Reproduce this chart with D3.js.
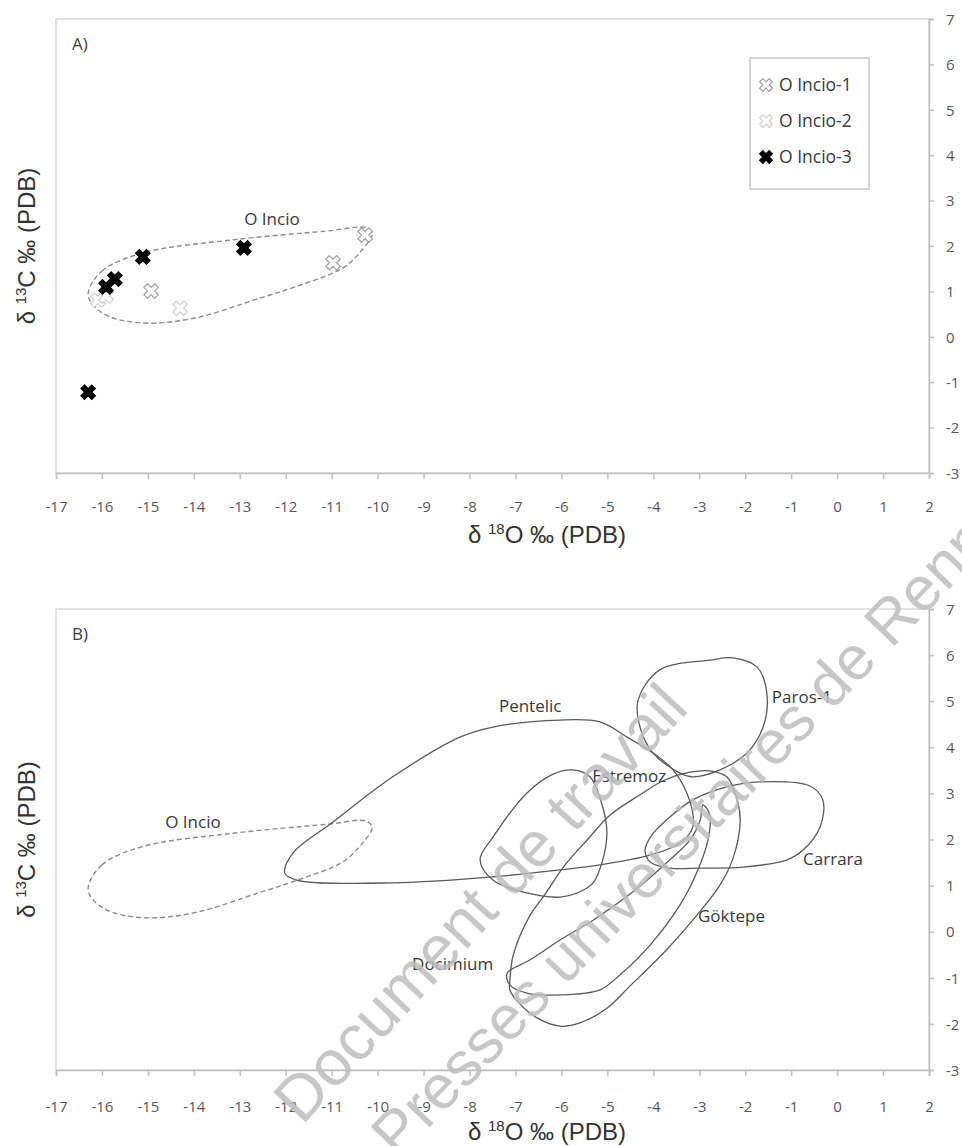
<!DOCTYPE html>
<html>
<head>
<meta charset="utf-8">
<script src="https://cdn.jsdelivr.net/npm/d3@7"></script>
<style>
  body { margin: 0; background: #fff; }
  svg { display: block; font-family: "Open Sans", sans-serif; }
</style>
</head>
<body>
<svg id="chart" width="962" height="1146"></svg>
<script>
// ---- data ----
const xTicks = d3.range(-17, 3)
const yTicks = d3.range(-3, 8)

// panel A samples (d18O, d13C)
const incio1 = [[-10.27, 2.24], [-10.97, 1.63], [-14.93, 1.01]]
const incio2 = [[-14.30, 0.63], [-16.09, 0.81], [-15.91, 0.90]]
const incio3 = [[-16.30, -1.22], [-15.91, 1.10], [-15.72, 1.27], [-15.11, 1.76], [-12.91, 1.96]]

// field envelopes
const oIncio = [[-16.30, 0.96], [-16.00, 1.45], [-15.10, 1.85], [-13.20, 2.13], [-11.10, 2.33], [-10.25, 2.40],
  [-10.12, 2.26], [-10.35, 1.90], [-10.75, 1.52], [-11.80, 1.10], [-12.60, 0.84], [-13.95, 0.42],
  [-15.00, 0.30], [-15.80, 0.43], [-16.20, 0.70]]
const pentelic = [[-12.02, 1.27], [-11.84, 1.71], [-10.97, 2.38], [-9.67, 3.36], [-8.21, 4.22], [-7.49, 4.44],
  [-6.03, 4.59], [-5.16, 4.55], [-4.57, 4.22], [-4.01, 3.88], [-3.57, 3.51], [-3.27, 3.01], [-3.14, 2.57],
  [-3.14, 2.27], [-3.27, 2.05], [-3.49, 1.88], [-4.07, 1.66], [-5.16, 1.45], [-6.03, 1.34], [-7.49, 1.19],
  [-9.67, 1.06], [-11.76, 1.12]]
const estremoz = [[-7.77, 1.56], [-7.49, 2.05], [-6.75, 3.01], [-6.18, 3.42], [-5.75, 3.51], [-5.38, 3.36],
  [-5.10, 2.70], [-5.01, 2.14], [-5.10, 1.56], [-5.31, 1.06], [-5.66, 0.84], [-6.03, 0.75], [-6.75, 0.84],
  [-7.49, 1.12]]
const paros1 = [[-4.33, 5.03], [-3.86, 5.68], [-2.77, 5.89], [-2.27, 5.94], [-1.74, 5.74], [-1.53, 5.18],
  [-1.61, 4.44], [-1.96, 3.88], [-2.55, 3.51], [-3.14, 3.36], [-3.42, 3.44], [-4.01, 3.88], [-4.29, 4.44]]
const carrara = [[-4.18, 1.77], [-4.03, 2.10], [-3.64, 2.49], [-3.14, 2.86], [-2.40, 3.14], [-1.68, 3.25],
  [-0.59, 3.16], [-0.31, 2.86], [-0.37, 2.27], [-0.74, 1.77], [-1.09, 1.56], [-2.05, 1.40], [-2.98, 1.38],
  [-3.64, 1.38], [-4.07, 1.51]]
const docimium = [[-7.18, -0.90], [-6.68, -0.61], [-6.03, -0.18], [-5.31, 0.25], [-4.36, 0.93], [-3.64, 1.56],
  [-3.20, 1.99], [-2.98, 2.42], [-2.92, 2.75], [-2.77, 2.53], [-2.81, 1.99], [-3.03, 1.34], [-3.42, 0.58],
  [-4.07, -0.29], [-4.73, -0.94], [-5.16, -1.26], [-6.03, -1.37], [-6.75, -1.33], [-7.12, -1.16]]
const goktepe = [[-7.12, -1.05], [-7.05, -0.51], [-6.68, 0.36], [-6.40, 0.75], [-5.92, 1.45], [-5.44, 1.99],
  [-4.94, 2.53], [-4.29, 2.97], [-3.75, 3.29], [-3.20, 3.46], [-2.77, 3.49], [-2.40, 3.36], [-2.18, 2.88],
  [-2.11, 2.38], [-2.27, 1.58], [-2.55, 1.01], [-3.05, 0.36], [-3.70, -0.38], [-4.51, -1.18], [-5.01, -1.66],
  [-5.60, -1.98], [-6.03, -2.05], [-6.53, -1.87], [-6.90, -1.57], [-7.12, -1.27]]

// labels: [text, x, y, anchor]
const labelsA = [["O Incio", -12.30, 2.46, "middle"]]
const labelsB = [["O Incio", -14.02, 2.25, "middle"], ["Pentelic", -6.68, 4.77, "middle"],
  ["Paros-1", -1.42, 4.96, "start"], ["Estremoz", -5.33, 3.25, "start"], ["Carrara", -0.74, 1.45, "start"],
  ["Göktepe", -3.03, 0.21, "start"], ["Docimium", -9.25, -0.83, "start"]]

const legendItems = ["O Incio-1", "O Incio-2", "O Incio-3"]

// ---- drawing ----
const svg = d3.select("#chart")
const left = 56, right = 929

const marker = d3.symbol().type(d3.symbolCross).size(130)
const markerStyle = [
  { fill: "#fff", stroke: "#a0a0a0" },
  { fill: "#fff", stroke: "#cfcfcf" },
  { fill: "#000", stroke: "#000" }
]

const outline = (x, y) => d3.line()
  .x(d => x(d[0]))
  .y(d => y(d[1]))
  .curve(d3.curveCatmullRomClosed.alpha(0.5))

function drawPanel(top, bottom, tag, labelOffset) {
  const x = d3.scaleLinear().domain([-17, 2]).range([left, right])
  const y = d3.scaleLinear().domain([-3, 7]).range([bottom, top])
  const g = svg.append("g")

  g.append("rect")
    .attr("x", left).attr("y", top)
    .attr("width", right - left).attr("height", bottom - top)
    .attr("fill", "none").attr("stroke", "#d9d9d9").attr("stroke-width", 1.5)

  const xAxis = g.append("g")
    .attr("transform", `translate(0,${bottom})`)
    .call(d3.axisBottom(x).tickValues(xTicks).tickSize(6).tickSizeOuter(6).tickFormat(d => String(d)))
  xAxis.selectAll("text")
    .attr("y", labelOffset).attr("dy", null)
    .attr("fill", "#595959").attr("font-size", "15px")
    .attr("font-family", "Open Sans, sans-serif")

  const yAxis = g.append("g")
    .attr("transform", `translate(${right},0)`)
    .call(d3.axisRight(y).tickValues(yTicks).tickSize(5).tickSizeOuter(5).tickFormat(d => String(d)))
  yAxis.selectAll("text")
    .attr("x", 17).attr("dy", "0.35em")
    .attr("fill", "#595959").attr("font-size", "15px")
    .attr("font-family", "Open Sans, sans-serif")

  g.selectAll(".domain, .tick line").attr("stroke", "#bfbfbf").attr("stroke-width", 1.5)

  g.append("text")
    .attr("x", 72).attr("y", top + 31)
    .attr("font-size", "17px").attr("fill", "#404040")
    .text(tag)

  // axis titles
  const xt = g.append("text")
    .attr("x", 547).attr("y", bottom + 70)
    .attr("text-anchor", "middle")
    .attr("font-family", "Liberation Sans, Arial, sans-serif")
    .attr("font-size", "24px").attr("fill", "#333")
  xt.append("tspan").text("δ ")
  xt.append("tspan").attr("font-size", "15px").attr("dy", -9).text("18")
  xt.append("tspan").attr("dy", 9).text("O ‰ (PDB)")

  const mid = (top + bottom) / 2
  const yt = g.append("text")
    .attr("transform", `translate(35,${mid}) rotate(-90)`)
    .attr("text-anchor", "middle")
    .attr("font-family", "Liberation Sans, Arial, sans-serif")
    .attr("font-size", "24px").attr("fill", "#333")
  yt.append("tspan").text("δ ")
  yt.append("tspan").attr("font-size", "15px").attr("dy", -9).text("13")
  yt.append("tspan").attr("dy", 9).text("C ‰ (PDB)")

  return { g, x, y }
}

function drawLabels(p, labels) {
  p.g.append("g").selectAll("text")
    .data(labels)
    .enter()
    .append("text")
      .attr("x", d => p.x(d[1]))
      .attr("y", d => p.y(d[2]))
      .attr("text-anchor", d => d[3])
      .attr("font-size", "17px")
      .attr("fill", "#3a3a3a")
      .text(d => d[0])
}

// Panel A
const pA = drawPanel(19, 473, "A)", 39)

pA.g.append("path")
  .datum(oIncio)
  .attr("d", outline(pA.x, pA.y))
  .attr("fill", "none").attr("stroke", "#8c8c8c")
  .attr("stroke-width", 1.4).attr("stroke-dasharray", "5,3")

drawLabels(pA, labelsA)

const seriesA = [incio1, incio2, incio3]
seriesA.forEach((pts, i) => {
  pA.g.append("g").selectAll("path")
    .data(pts)
    .enter()
    .append("path")
      .attr("d", marker)
      .attr("transform", d => `translate(${pA.x(d[0])},${pA.y(d[1])}) rotate(45)`)
      .attr("fill", markerStyle[i].fill)
      .attr("stroke", markerStyle[i].stroke)
      .attr("stroke-width", 1.2)
})

// legend
const legend = pA.g.append("g")
legend.append("rect")
  .attr("x", 750).attr("y", 58).attr("width", 119).attr("height", 131)
  .attr("fill", "#fff").attr("stroke", "#c8c8c8").attr("stroke-width", 1.5)
legendItems.forEach((name, i) => {
  const cy = 85 + i * 36
  legend.append("path")
    .attr("d", d3.symbol().type(d3.symbolCross).size(100))
    .attr("transform", `translate(766,${cy}) rotate(45)`)
    .attr("fill", markerStyle[i].fill)
    .attr("stroke", markerStyle[i].stroke)
    .attr("stroke-width", 1.2)
  legend.append("text")
    .attr("x", 779).attr("y", cy).attr("dy", "0.35em")
    .attr("font-size", "17.5px").attr("fill", "#3a3a3a")
    .text(name)
})

// Panel B
const pB = drawPanel(609, 1070, "B)", 42)

pB.g.append("path")
  .datum(oIncio)
  .attr("d", outline(pB.x, pB.y))
  .attr("fill", "none").attr("stroke", "#8c8c8c")
  .attr("stroke-width", 1.4).attr("stroke-dasharray", "5,3")

const fields = [pentelic, estremoz, paros1, carrara, docimium, goktepe]
pB.g.append("g").selectAll("path")
  .data(fields)
  .enter()
  .append("path")
    .attr("d", outline(pB.x, pB.y))
    .attr("fill", "none")
    .attr("stroke", "#5a5a5a")
    .attr("stroke-width", 1.3)

drawLabels(pB, labelsB)

// watermark
const wm = svg.append("g")
  .attr("font-family", "Liberation Sans, Arial, sans-serif")
  .attr("fill", "#bdbdbd")
  .attr("fill-opacity", 0.85)
wm.append("text").attr("font-size", "64px")
  .attr("transform", "translate(302,1126) rotate(-47)").text("Document de travail")
wm.append("text").attr("font-size", "62px")
  .attr("transform", "translate(398,1160) rotate(-46)").text("Presses universitaires de Rennes")
</script>
</body>
</html>
